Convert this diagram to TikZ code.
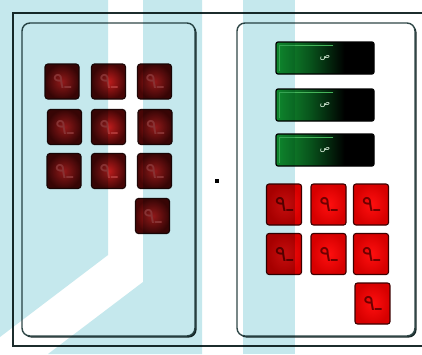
\documentclass[tikz,border=0pt]{standalone}
\usepackage{fontspec}
\usetikzlibrary{shadows}
\newfontfamily\arabicfont[Script=Arabic]{DejaVu Sans}
\TeXXeTstate=1
\definecolor{bgcyan}{RGB}{197,232,237}
\definecolor{framec}{RGB}{28,44,44}
\definecolor{panelc}{RGB}{48,72,72}
\definecolor{panelsh}{RGB}{25,40,40}
\definecolor{lbin}{RGB}{190,28,28}
\definecolor{lbout}{RGB}{72,6,6}
\definecolor{lbdraw}{RGB}{30,6,6}
\definecolor{lbglyph}{RGB}{175,55,55}
\definecolor{rbin}{RGB}{255,15,15}
\definecolor{rbout}{RGB}{215,0,0}
\definecolor{rbdraw}{RGB}{60,0,0}
\definecolor{rbglyph}{RGB}{110,0,0}
\definecolor{dgA}{RGB}{20,150,50}
\definecolor{dgB}{RGB}{8,85,28}
\definecolor{dgline}{RGB}{70,180,90}
\definecolor{dglyph}{RGB}{225,245,225}
\pgfdeclarehorizontalshading{dispshade}{100bp}{color(0bp)=(dgA); color(25bp)=(dgA); color(42bp)=(dgB); color(60bp)=(black); color(100bp)=(black)}
\tikzset{
  frameline/.style={framec, line width=1.8pt},
  panel/.style={draw=panelc, line width=1.4pt, rounded corners=8pt, fill=white,
    drop shadow={shadow xshift=1.6pt, shadow yshift=-1.6pt, opacity=1, fill=panelsh}},
  lbtn/.style={draw=lbdraw, line width=1.2pt, rounded corners=3pt, inner color=lbin, outer color=lbout,
    minimum width=34pt, minimum height=35pt, inner sep=0pt, text=lbglyph},
  rbtn/.style={draw=rbdraw, line width=1.1pt, rounded corners=2.5pt, inner color=rbin, outer color=rbout,
    minimum width=35pt, minimum height=41pt, inner sep=0pt, text=rbglyph},
  disp/.style={draw=black, line width=1.2pt, rounded corners=2pt, shading=dispshade,
    minimum width=98pt, minimum height=32pt, inner sep=0pt, text=dglyph},
  stripe/.style={fill=bgcyan}
}
\newcommand{\btnglyph}{{\arabicfont\fontsize{22}{22}\selectfont\beginR ـ٩\endR}}
\newcommand{\dispglyph}{{\arabicfont\fontsize{8.5}{8.5}\selectfont\beginR ص\endR}}
\begin{document}
\begin{tikzpicture}[x=1pt,y=-1pt]
\useasboundingbox (0,0) rectangle (422,354);
\fill[white] (0,0) rectangle (422,354);
% outer frame (open to the right)
\coordinate (ftl) at (13,13);
\coordinate (fbl) at (13,346);
\coordinate (ftr) at (422,13);
\coordinate (fbr) at (422,346);
\draw[frameline] (ftl) -- (ftr);
\draw[frameline] (fbl) -- (fbr);
\draw[frameline, line cap=rect] (ftl) -- (fbl);
% panels
\node[panel, minimum width=173pt, minimum height=313pt] (lp) at (108.5,179.5) {};
\node[panel, minimum width=178pt, minimum height=313pt] (rp) at (326,179.5) {};
% centre dot
\node[fill=black, minimum size=4pt, inner sep=0pt] (dot) at (217,181) {};
% left buttons
\foreach \n/\x/\y in {a/62/81.5, b/108.5/81.5, c/154.5/81.5,
                      d/64.5/127, e/108.5/127, f/155/127,
                      g/64/171, h/108.5/171, i/154.5/171, j/152.5/216}
  \node[lbtn] (l\n) at (\x,\y) {\btnglyph};
% displays
\foreach \n/\y in {a/58, b/105, c/150}{
  \node[disp] (d\n) at (325,\y) {\raisebox{-2pt}{\dispglyph}};
  \draw[dgline, line width=0.6pt] ([xshift=58pt,yshift=-4pt]d\n.north west) -- ([xshift=4pt,yshift=-4pt]d\n.north west) -- ([xshift=4pt,yshift=4pt]d\n.south west);
}
% right buttons
\foreach \n/\x/\y in {a/284/204.5, b/328.5/204.5, c/371/204.5,
                      d/284/254, e/328.5/254, f/371/254, g/372.5/303.5}
  \node[rbtn] (r\n) at (\x,\y) {\btnglyph};
% cyan watermark stripes
\begin{scope}[blend mode=multiply]
\fill[stripe] (0,0) -- (108,0) -- (108,255) -- (0,337) -- cycle;
\fill[stripe] (143,0) -- (202,0) -- (202,354) -- (48,354) -- (143,282) -- cycle;
\fill[stripe] (243,0) rectangle (295,354);
\end{scope}
\end{tikzpicture}
\end{document}
